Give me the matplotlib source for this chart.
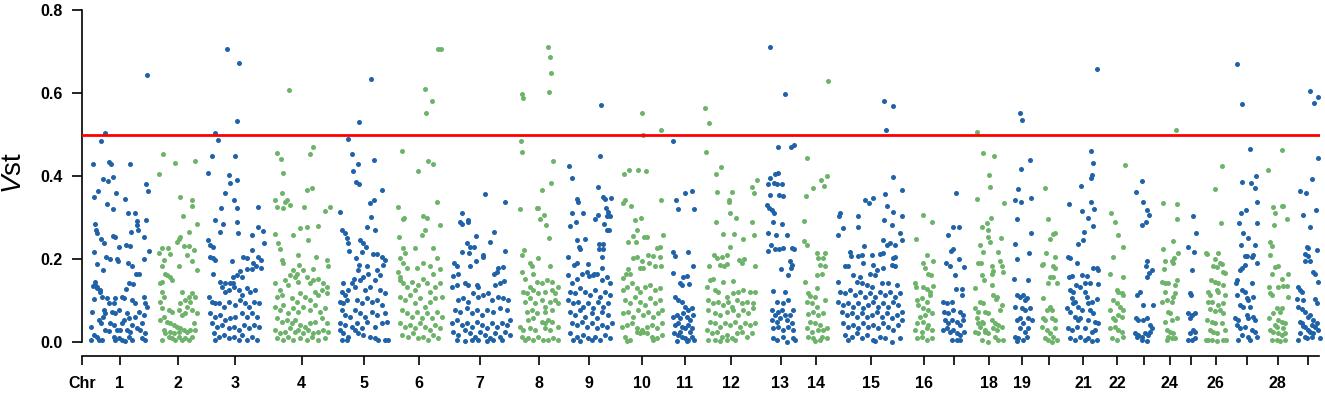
import matplotlib
matplotlib.use("Agg")
import matplotlib.pyplot as plt

plt.rcParams["font.family"] = ["Liberation Sans", "DejaVu Sans"]
plt.rcParams["mathtext.fontset"] = "custom"
plt.rcParams["mathtext.it"] = "Liberation Sans:italic"
plt.rcParams["mathtext.rm"] = "Liberation Sans"

# window span of each chromosome (same units as positions below)
chr_len = [58.3, 40.7, 58.1, 57.7, 49.7, 45.0, 60.4, 39.7, 45.0, 44.0, 24.4, 52.7, 29.0, 25.1, 68.3,
           21.1, 21.7, 31.7, 19.0, 18.4, 33.3, 17.4, 19.4, 16.0, 10.7, 21.7, 23.4, 21.7, 23.3]
hidden_labels = [17, 20, 23, 25, 27, 29]
threshold = 0.5

# (position within chromosome, Vst)
chr01 = [(14.6, .503), (10, .485), (2.6, .43), (18, .433), (20.6, .43), (39.6, .429), (56, .644), (55, .381),
         (57.6, .365), (7, .365), (3.6, .349), (12.6, .393), (17.6, .388), (22.6, .398), (25.3, .36), (16, .333),
         (22, .32), (34, .345), (37.3, .31), (44.6, .31), (40.6, .264), (46, .292), (46.6, .282), (47.3, .271),
         (4, .284), (5.6, .271), (6.6, .262), (10, .247), (13.6, .238), (22.6, .256), (24.3, .252), (53.3, .252),
         (55.3, .294), (53.3, .2), (58, .22), (28.6, .228), (35, .234), (39.3, .231), (3, .216), (15.3, .205),
         (19.3, .2), (27.6, .196), (26, .2), (6.6, .188), (37, .19), (41.6, .184), (12.6, .173), (45, .163),
         (48.6, .165), (38.6, .143), (42.6, .14), (2, .136), (4.3, .138), (6, .131), (9.3, .125), (35.3, .128),
         (4.3, .145), (6.3, .133), (9.6, .121), (3, .103), (11.3, .109), (16.3, .105), (18, .095), (24.6, .105),
         (23, .093), (31.3, .108), (33, .105), (41.3, .101), (44, .093), (53, .109), (54.6, .093), (56.3, .085),
         (1.3, .073), (13, .077), (14.6, .069), (12, .061), (21.3, .073), (24.6, .069), (28, .077), (36.3, .069),
         (38, .057), (44.6, .061), (48, .073), (53, .064), (8, .053), (10.6, .045), (19.6, .045), (23, .041),
         (33, .053), (31.3, .045), (41.3, .041), (51.3, .045), (0.6, .035), (14.6, .029), (18, .027), (26.3, .03),
         (29.6, .029), (36.3, .029), (39.6, .025), (46.3, .033), (49.6, .029), (54.6, .021), (3, .017), (6.3, .013),
         (8, .005), (23, .013), (24.6, .005), (28, .009), (31.3, .005), (38, .013), (41.3, .006), (51.3, .009),
         (54.6, .005), (0.3, .005), (11.3, .006), (34.6, .002)]
chr02 = [(2, .405), (6, .453), (17.7, .432), (37.4, .435), (22.7, .35), (34.4, .342), (35, .328), (26, .304),
         (39.4, .284), (1.4, .215), (4.7, .226), (10.7, .227), (6.3, .198), (4.7, .182), (13, .212), (21.4, .247),
         (19.7, .242), (23, .254), (26.4, .231), (31.4, .231), (36.4, .222), (29.7, .21), (34.7, .194), (39.7, .173),
         (31.4, .266), (21.4, .182), (3, .141), (4.7, .145), (8, .165), (9.7, .161), (13, .157), (14.7, .149),
         (4.7, .121), (6.3, .109), (3, .097), (24.7, .121), (28, .101), (31.4, .109), (34.7, .117), (23, .093),
         (29.7, .085), (33, .097), (38, .109), (4.7, .081), (11.4, .077), (14.7, .073), (6.3, .061), (3, .053),
         (21.4, .077), (24.7, .065), (28, .069), (34.7, .077), (39.7, .069), (9.7, .049), (13, .045), (16.4, .041),
         (19.7, .037), (23, .033), (26.4, .029), (29.7, .025), (33, .029), (38, .029), (6.3, .029), (8, .021),
         (11.4, .013), (14.7, .009), (18, .005), (21.4, .013), (24.7, .006), (28, .009), (31.4, .005), (34.7, .011),
         (13, .025), (16.4, .021), (21.4, .025), (4.7, .005), (36.4, .045)]
chr03 = [(20.4, .705), (33, .673), (30.4, .533), (8.7, .503), (12, .487), (5.4, .447), (29, .448), (2, .408),
         (23, .402), (23.7, .384), (30.4, .39), (18.7, .36), (27.7, .342), (31, .324), (14.4, .322), (51.4, .326),
         (8.7, .294), (13.7, .266), (16.4, .284), (31, .288), (31.7, .262), (45.4, .259), (52, .276), (57, .268),
         (58, .239), (2, .246), (3.7, .234), (7, .23), (3.7, .206), (7, .202), (8.7, .198), (46, .222), (52, .204),
         (25.4, .194), (55, .198), (37, .206), (40.3, .202), (47, .19), (50, .182), (40.3, .176), (45.4, .175),
         (33.7, .172), (36, .157), (27, .157), (30.4, .161), (7, .165), (13.7, .145), (18.7, .143), (23.7, .143),
         (27, .141), (55, .178), (2.4, .109), (5.7, .097), (9, .093), (15.7, .133), (19, .121), (22.4, .125),
         (27.4, .133), (32.4, .125), (35.7, .113), (40.7, .129), (44, .121), (49, .125), (12.4, .093), (17.4, .085),
         (22.4, .097), (29, .089), (34, .101), (39, .093), (42.4, .085), (47.4, .097), (52.4, .093), (4, .069),
         (9, .061), (14, .065), (19, .053), (24, .057), (29, .061), (35.7, .069), (40.7, .061), (46, .069),
         (51, .061), (5.7, .045), (10.7, .037), (15.7, .041), (22.4, .033), (27.4, .037), (32.4, .029), (37.4, .041),
         (42.4, .033), (47.4, .041), (52.4, .037), (7.4, .021), (12.4, .013), (17.4, .017), (22.4, .009),
         (27.4, .013), (32.4, .005), (35.7, .017), (40.7, .006), (46, .013), (51, .005), (9, .005)]
chr04 = [(16, .607), (4, .456), (8.3, .44), (10, .408), (40.6, .469), (37.3, .453), (2.3, .342), (9, .36),
         (12.3, .338), (14.6, .342), (4.6, .325), (10.6, .322), (17.3, .33), (34, .366), (39.6, .37), (31.6, .325),
         (52.3, .316), (57.3, .325), (2.3, .26), (20.6, .258), (27.3, .274), (34, .276), (35.6, .246), (45.6, .28),
         (5.6, .238), (7.3, .223), (9, .198), (10.6, .19), (25.6, .209), (43.3, .206), (54, .198), (55.6, .182),
         (26.6, .186), (40.6, .175), (20.6, .173), (24, .165), (30.6, .173), (17.3, .161), (2.3, .141), (7.3, .125),
         (12.3, .149), (15.6, .137), (22.3, .157), (25.6, .145), (34, .157), (37.3, .141), (40.6, .149),
         (45.6, .153), (50.6, .141), (54, .133), (4, .109), (9, .113), (19, .105), (24, .097), (27.3, .117),
         (32.3, .109), (37.3, .101), (42.3, .121), (45.6, .113), (49.6, .125), (54, .117), (2.3, .085), (7.3, .077),
         (10.6, .089), (15.6, .069), (20.6, .081), (25.6, .073), (30.6, .085), (37.3, .077), (42.3, .089),
         (47.3, .073), (52.3, .081), (4, .057), (9, .049), (14, .053), (19, .045), (22.3, .053), (27.3, .041),
         (32.3, .037), (37.3, .045), (42.3, .049), (49, .057), (54, .045), (2.3, .029), (7.3, .021), (12.3, .025),
         (17.3, .033), (22.3, .025), (25.6, .029), (30.6, .021), (35.6, .029), (40.6, .021), (45.6, .025),
         (50.6, .029), (55.6, .025), (4, .009), (10.6, .005), (15.6, .013), (20.6, .006), (27.3, .009), (34, .005),
         (39, .013), (45.6, .005), (52.3, .009)]
chr05 = [(32, .633), (20.6, .529), (9, .488), (13.3, .452), (19.3, .428), (14, .412), (35.3, .438), (17, .386),
         (20.3, .38), (43.6, .366), (1.6, .314), (31.3, .336), (35.6, .342), (32.6, .302), (28.6, .276), (3.6, .27),
         (6.3, .263), (36.3, .27), (8, .25), (9.6, .238), (21.3, .246), (24.6, .238), (27.3, .23), (23, .218),
         (10.6, .22), (34.6, .211), (38.6, .211), (43, .206), (46.3, .198), (44.6, .186), (17.3, .202), (20.6, .186),
         (19.6, .173), (28, .182), (29.6, .165), (38, .173), (41.3, .161), (15.6, .153), (13, .141), (21.3, .149),
         (24.6, .157), (36.3, .149), (4.6, .141), (3, .121), (6.3, .113), (9.6, .125), (16.3, .133), (26.3, .125),
         (31.3, .133), (41.3, .125), (46.3, .117), (1.3, .097), (4.6, .093), (8, .101), (18, .101), (23, .093),
         (28, .105), (33, .097), (38, .101), (43, .089), (3, .077), (6.3, .065), (11.3, .061), (16.3, .077),
         (21.3, .069), (26.3, .061), (33, .073), (38, .065), (46.3, .069), (1.3, .045), (6.3, .041), (13, .037),
         (18, .045), (23, .033), (28, .049), (36.3, .037), (43, .045), (48, .049), (1.3, .029), (4.6, .021),
         (9.6, .013), (16.3, .029), (19.6, .021), (24.6, .017), (31.3, .013), (36.3, .009), (39.6, .006),
         (46.3, .005), (49.6, .006), (3, .006), (8, .005)]
chr06 = [(41.3, .707), (44.3, .705), (28.3, .61), (35, .581), (29, .551), (5, .461), (21.6, .413), (31, .437),
         (36, .428), (40, .338), (1, .326), (6, .296), (7.3, .298), (26.6, .304), (30, .298), (43.3, .282),
         (25, .258), (28.3, .271), (2.6, .254), (6.6, .226), (8.3, .214), (3.3, .202), (18.3, .226), (36.6, .226),
         (26.6, .19), (20, .178), (6.6, .19), (1.6, .169), (3.3, .157), (10, .178), (33.3, .182), (36.6, .165),
         (40, .202), (43.3, .175), (3.3, .149), (6.6, .141), (10, .133), (15, .145), (18.3, .125), (21.6, .137),
         (26.6, .153), (30, .141), (33.3, .121), (38.3, .133), (43.3, .141), (3.3, .109), (8.3, .101), (13.3, .113),
         (18.3, .093), (23.3, .105), (28.3, .085), (33.3, .097), (38.3, .105), (45, .109), (5, .077), (10, .069),
         (15, .061), (20, .073), (25, .057), (30, .069), (35, .057), (40, .073), (45, .061), (3.3, .045),
         (8.3, .037), (13.3, .041), (18.3, .033), (23.3, .045), (28.3, .037), (33.3, .029), (38.3, .041),
         (43.3, .033), (5, .017), (11.6, .013), (16.6, .021), (21.6, .009), (26.6, .013), (31.6, .005),
         (36.6, .017), (41.6, .009)]
chr07 = [(35, .357), (55, .337), (11.7, .312), (10, .29), (11.7, .284), (18.3, .294), (17.7, .288), (25.7, .255),
         (44.3, .266), (40, .242), (16.7, .239), (12.3, .218), (20, .23), (19.3, .215), (24.3, .23), (33.3, .206),
         (33.3, .21), (55, .219), (25.7, .196), (4.3, .19), (6.7, .182), (20, .183), (46.7, .169), (48.3, .178),
         (53.3, .18), (3.3, .16), (8.3, .165), (44.3, .165), (15, .141), (18.3, .137), (1.7, .133), (7.3, .137),
         (26.7, .137), (28.3, .133), (45, .137), (50, .141), (54.3, .148), (8.3, .101), (13.3, .105), (18.3, .097),
         (23.3, .117), (28.3, .109), (33.3, .113), (38.3, .119), (41.7, .101), (48.3, .109), (53.3, .105),
         (58.3, .101), (5, .077), (10, .073), (16.7, .081), (21.7, .069), (26.7, .077), (31.7, .065), (36.7, .077),
         (43.3, .073), (50, .081), (56.7, .077), (1.7, .045), (6.7, .053), (11.7, .041), (16.7, .045), (21.7, .037),
         (26.7, .049), (31.7, .041), (36.7, .033), (41.7, .045), (46.7, .037), (51.7, .045), (56.7, .041),
         (60, .053), (3.3, .025), (8.3, .017), (15, .029), (20, .021), (25, .013), (30, .025), (35, .017),
         (40, .009), (45, .021), (50, .013), (55, .025), (60, .017), (6.7, .005), (15, .003), (21.7, .006),
         (28.3, .005), (36.7, .003), (43.3, .006), (51.7, .005)]
chr08 = [(29.6, .712), (31.3, .686), (32, .647), (30.6, .602), (3.6, .597), (4.3, .587), (2, .485), (3, .459),
         (34.6, .435), (32, .382), (23, .366), (1.3, .32), (18, .322), (19.6, .322), (21.3, .296), (25.3, .307),
         (27.3, .282), (30.6, .251), (5.3, .222), (3, .21), (19.6, .202), (11.3, .19), (13, .182), (31.3, .182),
         (3, .169), (14.6, .165), (6.3, .153), (18, .145), (23, .141), (11.3, .133), (28, .149), (33, .145),
         (39.5, .133), (4.6, .121), (8, .117), (14.6, .125), (19.6, .119), (26.3, .121), (33, .125), (36.3, .119),
         (6.3, .097), (11.3, .105), (16.3, .093), (23, .101), (26.3, .085), (31.3, .097), (36.3, .101), (39.6, .093),
         (8, .073), (13, .077), (18, .069), (26.3, .073), (33, .077), (9.6, .053), (14.6, .057), (23, .049),
         (26.3, .045), (29.6, .053), (33, .047), (39.6, .037), (1.3, .037), (4.6, .029), (11.3, .033), (16.3, .029),
         (26.3, .033), (31.3, .029), (6.3, .006), (9.6, .009), (14.6, .005), (19.6, .013), (24.6, .005),
         (29.6, .006), (34.6, .009), (39.5, .005), (3, .013)]
chr09 = [(34, .572), (33.3, .448), (2.6, .423), (5, .394), (31, .374), (36, .349), (38.3, .345), (44, .347),
         (10, .345), (11, .337), (5, .31), (16.6, .312), (28.3, .296), (31.7, .306), (39.3, .322), (41.7, .314),
         (40, .304), (43.3, .304), (3.3, .28), (9, .288), (37.3, .285), (40, .27), (42.6, .27), (10, .245),
         (18.3, .247), (32.3, .235), (36, .236), (12.6, .228), (13.3, .224), (32.7, .224), (36.7, .224), (1.7, .205),
         (35, .205), (7.3, .186), (10, .19), (21, .187), (35, .178), (27.3, .165), (30, .164), (20, .169),
         (22.3, .159), (1.6, .161), (5, .141), (10, .153), (15, .165), (26.6, .161), (35, .149), (40, .157),
         (43.3, .141), (3.3, .121), (8.3, .117), (13.3, .129), (18.3, .121), (23.3, .113), (28.3, .125),
         (33.3, .109), (38.3, .121), (43.3, .113), (1.6, .101), (6.6, .093), (11.6, .097), (16.6, .085),
         (21.6, .093), (26.6, .081), (31.6, .097), (36.6, .085), (41.6, .093), (3.3, .073), (8.3, .065),
         (13.3, .077), (18.3, .061), (25, .069), (30, .057), (35, .073), (41.6, .065), (5, .045), (10, .041),
         (15, .049), (20, .037), (25, .045), (30, .033), (35, .041), (40, .037), (45, .045), (3.3, .021),
         (10, .013), (16.6, .017), (21.6, .009), (25, .006), (28.3, .013), (33.3, .005), (38.3, .017), (43.3, .009),
         (6.6, .005), (13.3, .003)]
chr10 = [(21.7, .553), (23.3, .499), (40.7, .511), (4, .405), (9.3, .414), (18, .414), (25.7, .412), (41, .342),
         (3.3, .335), (5, .343), (10.7, .328), (15, .294), (20.7, .298), (16.7, .27), (12.7, .256), (16, .242),
         (24, .254), (26.7, .254), (42.7, .259), (40, .228), (37.3, .226), (7.7, .242), (12.7, .202), (16.7, .204),
         (21.7, .195), (28.3, .21), (33.3, .207), (8.3, .176), (6, .165), (10, .164), (3.3, .155), (40, .206),
         (40.7, .182), (20, .178), (23.3, .179), (29.3, .19), (35, .183), (2.6, .125), (6.6, .133), (11.6, .141),
         (16.6, .129), (20, .121), (25, .133), (30, .137), (35, .125), (40, .129), (5, .101), (10, .093),
         (15, .109), (20, .097), (25, .089), (30, .105), (35, .093), (40, .101), (3.3, .069), (8.3, .073),
         (13.3, .061), (18.3, .077), (23.3, .065), (28.3, .073), (33.3, .061), (38.3, .069), (41.6, .077),
         (1.6, .037), (6.6, .041), (11.6, .045), (16.6, .033), (21.6, .029), (26.6, .037), (31.6, .041),
         (36.6, .033), (41.6, .045), (5, .013), (10, .005), (16.6, .025), (20, .021), (23.3, .025), (26.6, .021),
         (31.6, .013), (36.6, .009), (41.6, .017), (6.6, .003), (33.3, .005)]
chr11 = [(0.4, .484), (3.7, .342), (12.7, .36), (20, .365), (6, .32), (21.6, .32), (1, .218), (2.7, .208),
         (16, .218), (21, .182), (1, .167), (11, .157), (14.3, .159), (7.7, .141), (9.3, .137), (17, .14),
         (2.7, .109), (6, .101), (9.3, .097), (12.7, .085), (16, .077), (19.3, .081), (1, .061), (4.3, .065),
         (7.7, .057), (11, .069), (14.3, .061), (17.7, .053), (21, .065), (2.7, .041), (6, .045), (9.3, .037),
         (12.7, .033), (16, .041), (19.3, .033), (2, .021), (6, .017), (9.3, .013), (12.7, .009), (16, .005),
         (19.3, .013), (4.3, .003), (14.3, .003), (21.7, .005), (17.7, .025), (7.7, .025)]
chr12 = [(0.3, .563), (4.3, .527), (1, .457), (15.7, .422), (11, .404), (12.3, .362), (27, .362), (51.7, .39),
         (46.7, .373), (49, .36), (24.3, .342), (23.7, .337), (11, .288), (25, .31), (31, .298), (18.3, .26),
         (29.3, .26), (46.7, .29), (49.3, .258), (37.7, .248), (25, .228), (9, .21), (4.3, .184), (15, .186),
         (1.7, .133), (7.7, .151), (11.7, .202), (16.7, .206), (21.7, .21), (19, .183), (22.3, .187), (34.3, .198),
         (39, .199), (36.7, .19), (28.3, .147), (50, .182), (5, .149), (10, .125), (13.3, .121), (18.3, .145),
         (21.6, .109), (28.3, .117), (33.3, .121), (38.3, .125), (45, .121), (50, .121), (3.3, .101), (8.3, .093),
         (13.3, .097), (18.3, .089), (23.3, .097), (26.6, .085), (31.6, .101), (36.6, .093), (41.6, .097),
         (48.3, .093), (3.3, .077), (10, .069), (15, .065), (21.6, .073), (28.3, .077), (33.3, .065), (38.3, .077),
         (43.3, .069), (48.3, .081), (5, .049), (10, .045), (15, .037), (20, .045), (25, .041), (30, .049),
         (35, .037), (40, .045), (45, .041), (50, .045), (1.6, .029), (6.6, .021), (11.6, .025), (16.6, .013),
         (21.6, .017), (26.6, .009), (31.6, .021), (36.6, .025), (41.6, .013), (46.6, .021), (3.3, .006),
         (10, .005), (15, .003), (21.6, .005), (30, .006)]
chr13 = [(4, .71), (19, .598), (12.3, .469), (24.7, .469), (28, .475), (2.3, .381), (4, .394), (9, .406),
         (12.3, .408), (8.3, .382), (11.3, .38), (16.3, .38), (4, .354), (13.3, .354), (16.7, .352), (1.3, .33),
         (3.3, .322), (5.7, .318), (8.3, .31), (6.7, .29), (16.3, .284), (2.3, .262), (9.7, .259), (21.3, .258),
         (4.7, .234), (9, .223), (13, .223), (25.7, .226), (28, .223), (1.7, .22), (17.3, .226), (14.7, .175),
         (24.7, .178), (24, .196), (25.7, .186), (22.3, .161), (7.3, .124), (19, .121), (10.7, .097), (17.3, .093),
         (22.3, .101), (5.7, .077), (12.3, .073), (15.7, .077), (27.3, .077), (9, .065), (19, .065), (24, .065),
         (5.7, .053), (10.7, .049), (14, .057), (20.7, .053), (25.7, .045), (7.3, .033), (12.3, .037), (17.3, .029),
         (22.3, .037), (27.3, .029), (7.3, .009), (10.7, .005), (17.3, .013), (20.7, .001), (27.3, .009),
         (29, .005)]
chr14 = [(24.4, .629), (3.4, .443), (17.7, .39), (23.3, .401), (10, .37), (21, .376), (2.7, .352), (1, .292),
         (1, .244), (3.4, .234), (13.4, .215), (21.7, .215), (15, .202), (20, .202), (16.7, .186), (21.7, .182),
         (13.4, .161), (18.3, .165), (1.7, .145), (13.4, .129), (5, .117), (6.7, .111), (11.7, .109), (3.4, .097),
         (8.3, .093), (21.7, .101), (13.4, .085), (5, .067), (10, .073), (15, .065), (20, .069), (6.7, .049),
         (11.7, .045), (16.7, .041), (3.4, .033), (8.3, .025), (15, .029), (20, .029), (23.3, .033), (5, .013),
         (10, .009), (18.3, .011), (23.3, .009), (11.7, .003), (16.7, .005)]
chr15 = [(47.3, .581), (56, .568), (49.3, .512), (56.6, .397), (65.6, .366), (48.3, .357), (28.3, .342),
         (32.3, .334), (36.6, .346), (50, .328), (56.6, .314), (65, .304), (2.3, .304), (3.3, .31), (21.6, .304),
         (47.6, .294), (6.6, .274), (21, .276), (1.6, .258), (55, .282), (63.3, .262), (46.6, .246), (50, .234),
         (53.3, .238), (58.3, .234), (65.6, .246), (27.6, .231), (13.3, .218), (14.3, .208), (21, .208), (25, .21),
         (35.6, .21), (43.3, .212), (46.6, .214), (26.6, .19), (36.6, .186), (8.3, .183), (11.6, .182),
         (56.6, .202), (58.3, .206), (55, .186), (58.3, .182), (40, .173), (46.6, .178), (16.6, .161), (23.3, .157),
         (33.3, .165), (38.3, .161), (1.6, .145), (20, .145), (25, .141), (30, .137), (35, .133), (45, .141),
         (51.6, .141), (60, .137), (3.3, .121), (8.3, .117), (13.3, .125), (18.3, .113), (23.3, .121), (28.3, .109),
         (33.3, .117), (38.3, .109), (43.3, .121), (48.3, .113), (53.3, .121), (58.3, .109), (63.3, .117),
         (1.6, .097), (6.6, .089), (11.6, .093), (16.6, .085), (21.6, .093), (26.6, .081), (31.6, .089),
         (36.6, .097), (41.6, .085), (46.6, .093), (51.6, .085), (56.6, .097), (61.6, .089), (5, .073), (10, .065),
         (15, .069), (20, .061), (25, .069), (30, .061), (35, .065), (40, .073), (45, .061), (50, .069), (55, .057),
         (60, .065), (65, .073), (6.6, .045), (11.6, .037), (16.6, .041), (21.6, .033), (26.6, .045), (31.6, .037),
         (36.6, .041), (41.6, .033), (46.6, .045), (51.6, .037), (56.6, .029), (61.6, .041), (65, .053),
         (8.3, .017), (15, .013), (20, .021), (25, .009), (30, .017), (36.6, .005), (43.3, .013), (48.3, .009),
         (55, .001), (63.3, .009), (11.6, .006), (38.3, .003)]
chr16 = [(9.4, .306), (18.4, .29), (2.4, .247), (13.4, .21), (10, .19), (11.7, .178), (20, .195), (15, .164),
         (17.3, .161), (1.7, .141), (2.7, .133), (19.4, .136), (10, .133), (13.4, .128), (16.7, .121), (8.4, .105),
         (13.4, .097), (16.7, .113), (3.4, .101), (5, .089), (10, .081), (15, .077), (18.4, .069), (11.7, .065),
         (6.7, .061), (3.4, .045), (10, .049), (15, .041), (1.7, .029), (8.4, .025), (13.4, .033), (18.4, .029),
         (3.4, .009), (8.4, .013), (13.4, .005), (18.4, .009)]
chr17 = [(13.3, .36), (10, .276), (5.6, .258), (16.6, .276), (10.6, .223), (8, .22), (16.3, .199), (3, .19),
         (7.3, .184), (12.3, .161), (21.3, .18), (19, .128), (13.3, .127), (19, .113), (0.6, .097), (4, .094),
         (9, .097), (1.3, .073), (5.6, .069), (10.6, .077), (17.3, .073), (20.6, .065), (2.3, .053), (5.6, .045),
         (9, .053), (14, .049), (17.3, .041), (20.6, .053), (4, .033), (7.3, .025), (10.6, .029), (14, .021),
         (17.3, .017), (21.5, .025), (9, .005), (14, .005), (17.3, .005), (0.6, .029)]
chr18 = [(4, .505), (10, .456), (21.3, .449), (16.6, .402), (17.3, .374), (4.6, .344), (31.3, .336), (18, .3),
         (9, .278), (14, .286), (15.6, .27), (15.6, .252), (17.3, .242), (28, .251), (7.3, .234), (10.6, .218),
         (25.6, .218), (5.6, .191), (8, .191), (19, .182), (20.6, .172), (27.3, .196), (29, .182), (9, .161),
         (11.3, .149), (19, .165), (30.6, .169), (2.3, .129), (19, .137), (20.6, .113), (24.6, .108), (23.3, .103),
         (7.3, .097), (10.6, .093), (2.3, .081), (5.6, .073), (12.3, .073), (15.6, .069), (27.3, .077), (29, .089),
         (4, .057), (9, .049), (10.6, .045), (19, .053), (22.3, .045), (25.6, .041), (29, .037), (7.3, .037),
         (12.3, .029), (20.6, .033), (24, .029), (2.3, .025), (5.6, .021), (12.3, .025), (15.6, .021), (22.3, .013),
         (30.6, .005), (9, .005), (15.6, .001), (25.6, .005), (5.6, .045)]
chr19 = [(7.3, .553), (9, .535), (17.3, .439), (8, .418), (5, .368), (2.3, .342), (8, .338), (18.6, .346),
         (4, .296), (18, .262), (2.3, .235), (4.6, .2), (16.6, .215), (1.3, .153), (15.6, .149), (4, .113),
         (7.3, .109), (10.6, .113), (12.3, .101), (14, .105), (2.3, .085), (9, .081), (12.3, .077), (17.3, .081),
         (4, .053), (7.3, .057), (10.6, .045), (15.6, .057), (19, .053), (7.3, .033), (12.3, .025), (15.6, .033),
         (2.3, .013), (5.6, .009), (10.6, .005), (14, .013), (4, .003)]
chr20 = [(5, .372), (8.3, .296), (15, .263), (13.3, .26), (10, .247), (6, .214), (15, .206), (1.6, .186),
         (3.3, .187), (13.3, .182), (15, .178), (10, .157), (13.3, .157), (7.6, .143), (17.3, .143), (3.3, .105),
         (10, .085), (11.6, .077), (6.6, .077), (3.3, .057), (5, .053), (11.6, .057), (15, .053), (1.6, .037),
         (6.6, .029), (15, .033), (10, .021), (13.3, .013), (5, .009), (8.3, .005), (16.6, .005), (11.6, .001)]
chr21 = [(30, .659), (24, .46), (26, .431), (25, .402), (24.3, .394), (14.3, .376), (2.3, .333), (24.3, .338),
         (15, .316), (27.3, .32), (21.6, .3), (17.6, .266), (26, .28), (16.6, .246), (11.6, .236), (1.6, .206),
         (3.3, .202), (10.6, .19), (26.6, .178), (30, .178), (31.6, .173), (31.6, .14), (2.6, .157), (5, .159),
         (15, .161), (20, .159), (9.3, .137), (13.3, .133), (18.3, .141), (23.3, .141), (3.3, .125), (6.6, .121),
         (18.3, .121), (20.6, .109), (5, .105), (8.3, .097), (6.6, .093), (21.6, .093), (25, .097), (30, .103),
         (0.2, .081), (3.3, .073), (11.6, .085), (15, .077), (23.3, .077), (26.6, .069), (8.3, .061), (11.6, .053),
         (13.3, .057), (21.6, .053), (28.3, .049), (31.6, .045), (1.6, .033), (5, .029), (10, .037), (18.3, .033),
         (25, .025), (28.3, .029), (3.3, .009), (8.3, .005), (13.3, .013), (18.3, .005), (21.6, .009), (25, .003),
         (30, .005)]
chr22 = [(16.7, .427), (2.7, .31), (6.7, .29), (10, .258), (14.3, .228), (1.7, .164), (5, .206), (15, .157),
         (8.3, .125), (10, .121), (13.3, .117), (15, .113), (5, .101), (8.3, .093), (11.7, .085), (1.7, .077),
         (5, .057), (6.7, .053), (10, .065), (13.3, .061), (15, .077), (1.7, .033), (6.7, .037), (10, .029),
         (13.3, .025), (3.3, .009), (8.3, .006), (15, .013)]
chr23 = [(8.3, .389), (2, .361), (8.7, .338), (12.7, .318), (15.3, .306), (11.7, .29), (7.7, .282), (12.7, .194),
         (11.7, .182), (15.3, .167), (17.7, .173), (12.7, .157), (2.7, .113), (6, .121), (9.3, .089), (18.7, .089),
         (2, .057), (4.3, .053), (9.3, .053), (12.7, .057), (16, .041), (17.7, .033), (1, .021), (4.3, .017),
         (7.7, .013), (11, .021), (14.3, .017), (7.7, .005), (12.7, .003), (2.6, .013), (16, .025)]
chr24 = [(14, .512), (1.6, .336), (15, .333), (15.6, .296), (1, .224), (11, .244), (3.3, .196), (12.6, .202),
         (16, .214), (10, .194), (11.6, .191), (2.6, .175), (0.2, .145), (3.3, .143), (6.6, .141), (15, .149),
         (13.3, .137), (3.3, .121), (13.3, .117), (11.6, .109), (5, .101), (10, .097), (0.2, .097), (6.6, .073),
         (8.3, .069), (3.3, .049), (10, .053), (15, .057), (5, .029), (8.3, .025), (11.6, .022), (6.6, .013),
         (10, .009), (13.3, .009), (5, .005)]
chr25 = [(7.3, .304), (10, .263), (2.3, .23), (8.3, .216), (5.6, .173), (4, .119), (5, .113), (2.3, .069),
         (5.6, .065), (9, .071), (4, .057), (7.3, .029), (9, .025), (4, .022), (2.3, .005), (5.6, .006), (9, .009)]
chr26 = [(16.7, .424), (10, .369), (15.6, .286), (0.6, .215), (2.3, .212), (13.3, .214), (10, .199), (15, .19),
         (16.7, .188), (8.3, .182), (11.6, .18), (18.3, .169), (20, .167), (6, .149), (10, .145), (13.3, .141),
         (18.3, .137), (3.3, .121), (5, .113), (11.6, .125), (13.3, .121), (20, .113), (6.6, .097), (2.6, .097),
         (13.3, .089), (18.3, .093), (5, .079), (10, .075), (18.3, .069), (15, .077), (1.6, .053), (6.6, .049),
         (10, .045), (16.6, .045), (5, .029), (8.3, .025), (11.6, .022), (20, .029), (0.6, .006), (3.3, .005),
         (6.6, .006), (11.6, .003), (18.3, .005), (21, .006)]
chr27 = [(1.7, .671), (7.3, .574), (15, .464), (6.7, .385), (16, .382), (20, .37), (21, .399), (21.6, .338),
         (6, .31), (10.6, .318), (4.3, .286), (8.3, .262), (13.3, .25), (21.6, .286), (6, .234), (20, .234),
         (10, .208), (11.7, .207), (16.7, .206), (18.3, .21), (21.6, .19), (6.7, .178), (5, .173), (10, .186),
         (1.6, .149), (0.6, .141), (16.7, .141), (6.7, .125), (10, .121), (1.6, .113), (11.6, .105), (13.3, .101),
         (18.3, .109), (5, .089), (8.3, .085), (15, .085), (0.2, .057), (3.3, .053), (11.6, .065), (13.3, .057),
         (18.3, .061), (20, .053), (1.6, .041), (5, .033), (10, .037), (16.7, .029), (20, .025), (6.7, .017),
         (13.3, .013), (15, .005), (21.6, .013), (3.3, .006)]
chr28 = [(15, .463), (1, .414), (6.6, .326), (8.3, .312), (15.6, .328), (16.6, .327), (20, .296), (7.6, .282),
         (3.3, .242), (5, .231), (3.3, .21), (11, .184), (8.3, .18), (5, .165), (21, .164), (15, .153), (2, .133),
         (3.3, .117), (16.6, .136), (20, .136), (11.6, .133), (21, .109), (5, .113), (10, .081), (13.3, .073),
         (15, .081), (6.6, .069), (2, .057), (11.6, .053), (15, .049), (8.3, .041), (10, .037), (18.3, .045),
         (16.6, .033), (3.3, .029), (6.6, .025), (11.6, .021), (15, .017), (18.3, .022), (5, .005), (10, .006),
         (13.3, .003), (18.3, .006)]
chr29 = [(13.3, .606), (17.3, .577), (21.6, .59), (21, .444), (15.6, .392), (3.3, .365), (9.3, .358),
         (19.3, .318), (6.7, .306), (13.3, .278), (20, .222), (10, .228), (11.7, .226), (8.3, .212), (11, .207),
         (8.3, .194), (13.3, .196), (16.6, .169), (18.3, .165), (21, .145), (1.6, .133), (3.3, .125), (5, .121),
         (6.7, .101), (0.2, .103), (18.3, .103), (20, .093), (1.6, .085), (5, .079), (8.3, .073), (11.7, .061),
         (13.3, .065), (16.6, .053), (3.3, .049), (5, .045), (6.7, .039), (8.3, .037), (15, .041), (18.3, .037),
         (20, .045), (3.3, .021), (11.7, .029), (13.3, .025), (16.7, .022), (21.6, .029), (23.3, .009), (8.3, .013),
         (10, .009), (15, .013), (1.6, .005)]

chromosomes = [chr01, chr02, chr03, chr04, chr05, chr06, chr07, chr08, chr09, chr10, chr11, chr12, chr13, chr14,
               chr15, chr16, chr17, chr18, chr19, chr20, chr21, chr22, chr23, chr24, chr25, chr26, chr27, chr28,
               chr29]


def main() -> None:
    blue, green = "#1f62a8", "#6db46a"
    gap = 8.3
    left_pad = 8.7

    fig = plt.figure(figsize=(13.25, 3.94), dpi=100)
    ax = fig.add_axes([82 / 1325, 52 / 394, 1238 / 1325, 332 / 394])

    offset = 0.0
    ticks, labels = [-left_pad], ["Chr"]
    for i, (length, pts) in enumerate(zip(chr_len, chromosomes)):
        xs = [offset + p for p, _ in pts]
        ys = [v for _, v in pts]
        ax.scatter(xs, ys, s=13, color=blue if i % 2 == 0 else green, linewidths=0, clip_on=False, zorder=2)
        ticks.append(offset + length / 2)
        labels.append("" if (i + 1) in hidden_labels else str(i + 1))
        offset += length + gap
    total = offset - gap

    ax.axhline(threshold, color="#ff0000", lw=2, zorder=3)

    ax.set_xlim(-left_pad, total)
    ax.set_ylim(0, 0.8)

    for side in ("top", "right"):
        ax.spines[side].set_visible(False)
    ax.spines["left"].set_bounds(0, 0.8)
    ax.spines["bottom"].set_position(("outward", 10))
    ax.spines["bottom"].set_bounds(-left_pad, total - 1)
    for side in ("left", "bottom"):
        ax.spines[side].set_linewidth(1.2)

    ax.set_yticks([0.0, 0.2, 0.4, 0.6, 0.8])
    ax.set_yticklabels(["0.0", "0.2", "0.4", "0.6", "0.8"], fontweight="bold", fontsize=11.5)
    ax.set_xticks(ticks)
    ax.set_xticklabels(labels, fontweight="bold", fontsize=11.5)
    ax.tick_params(axis="y", length=7, width=1.2, pad=7)
    ax.tick_params(axis="x", length=6.5, width=1.2, pad=8)

    fig.text(14 / 1325, 1 - 173 / 394, r"$\mathit{V}$st", rotation=90, fontsize=20, ha="center", va="center")

    fig.savefig("out.png", dpi=100)


if __name__ == "__main__":
    main()
